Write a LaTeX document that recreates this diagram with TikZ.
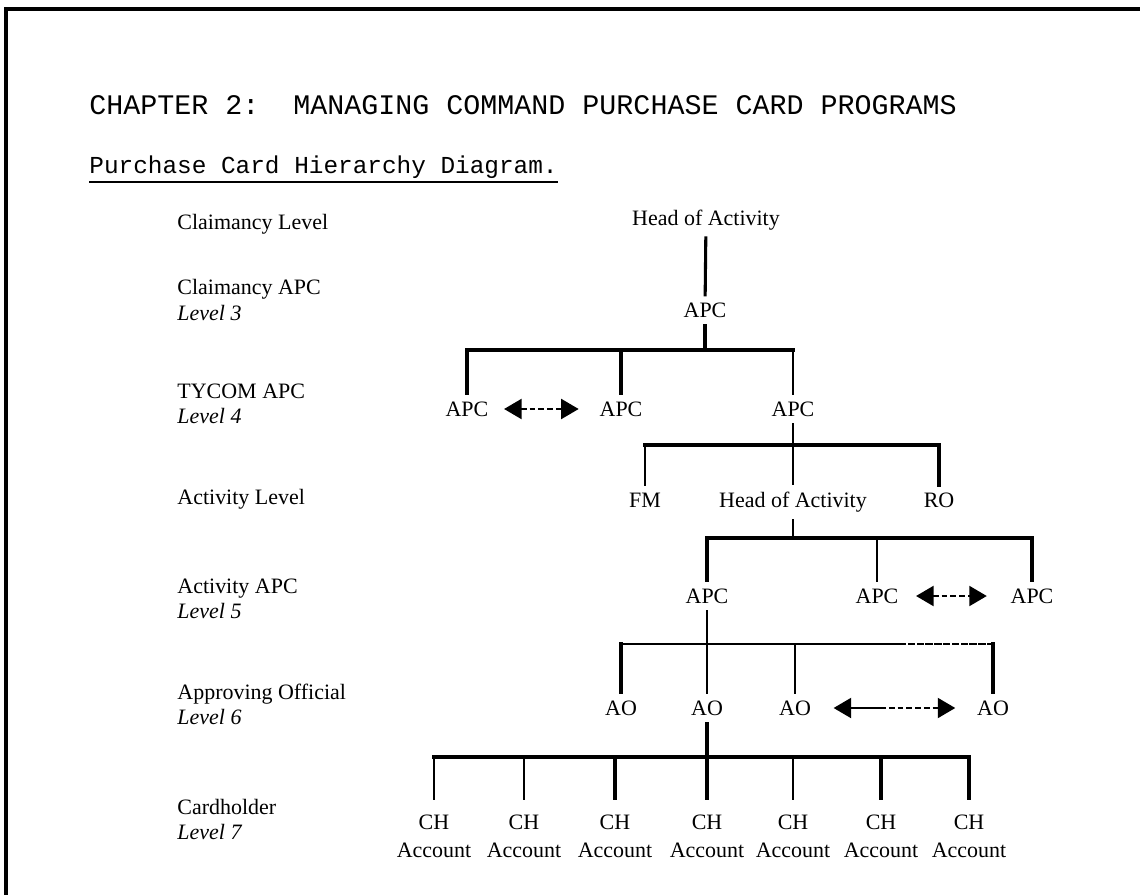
\documentclass[tikz,border=0pt]{standalone}
\usepackage{fontspec}
\setmainfont{Liberation Serif}
\setmonofont{Liberation Mono}
\usetikzlibrary{arrows.meta}

\begin{document}
\begin{tikzpicture}[
  heavy/.style={line width=1.4pt,line cap=rect},
  light/.style={line width=0.9pt,line cap=rect},
  heavier/.style={line width=1.8pt,line cap=rect},
  dots/.style={dash pattern=on 2pt off 1pt},
  lvl/.style={anchor=west,inner sep=0pt,align=left,font=\fontsize{10}{11.4}\selectfont},
  post/.style={font=\fontsize{10}{12}\selectfont},
  acct/.style={align=center,outer ysep=4pt,font=\fontsize{10}{12.7}\selectfont},
  twoway/.style={line width=1.3pt,dash pattern=on 2.6pt off 1.4pt},
  bigtri/.tip={Triangle[length=8pt,width=9pt]}
]
\useasboundingbox (0,0) rectangle (18.240,-14.320);
\draw[line width=1.4pt] (0.096,-14.320) -- (0.096,-0.144) -- (18.240,-0.144);

% heading
\node[anchor=base west,inner sep=0pt,font=\ttfamily\fontsize{12.9}{15}\selectfont] (chap) at (1.424,-1.840) {CHAPTER 2:\ \ MANAGING COMMAND PURCHASE CARD PROGRAMS};
\node[anchor=base west,inner sep=0pt,font=\ttfamily\fontsize{11.1}{13}\selectfont] (sub) at (1.424,-2.784) {Purchase Card Hierarchy Diagram.};
\draw[line width=0.9pt] ([yshift=-3.6pt]sub.base west) -- ([yshift=-3.6pt]sub.base east);

% level names
\node[lvl] (lclaim) at (2.832,-3.584) {Claimancy Level};
\node[lvl] (lthree) at (2.832,-4.800) {Claimancy APC\\\textit{Level 3}};
\node[lvl] (lfour) at (2.832,-6.464) {TYCOM APC\\\textit{Level 4}};
\node[lvl] (lact) at (2.832,-7.984) {Activity Level};
\node[lvl] (lfive) at (2.832,-9.584) {Activity APC\\\textit{Level 5}};
\node[lvl] (lsix) at (2.832,-11.264) {Approving Official\\\textit{Level 6}};
\node[lvl] (lseven) at (2.832,-13.104) {Cardholder\\\textit{Level 7}};

% posts
\node[post] (hoa1) at (11.296,-3.520) {Head of Activity};
\node[post] (apc3) at (11.280,-4.960) {APC};
\node[post] (apc4a) at (7.472,-6.544) {APC};
\node[post] (apc4b) at (9.936,-6.544) {APC};
\node[post] (apc4c) at (12.688,-6.544) {APC};
\node[post] (fm) at (10.320,-8.000) {FM};
\node[post] (hoa2) at (12.688,-8.032) {Head of Activity};
\node[post] (ro) at (15.024,-8.000) {RO};
\node[post] (apc5a) at (11.312,-9.536) {APC};
\node[post] (apc5b) at (14.032,-9.536) {APC};
\node[post] (apc5c) at (16.512,-9.536) {APC};
\node[post] (ao1) at (9.936,-11.328) {AO};
\node[post] (ao2) at (11.312,-11.328) {AO};
\node[post] (ao3) at (12.720,-11.328) {AO};
\node[post] (ao4) at (15.888,-11.328) {AO};
\node[acct] (ch1) at (6.944,-13.376) {CH\\Account};
\node[acct] (ch2) at (8.384,-13.376) {CH\\Account};
\node[acct] (ch3) at (9.840,-13.376) {CH\\Account};
\node[acct] (ch4) at (11.312,-13.376) {CH\\Account};
\node[acct] (ch5) at (12.688,-13.376) {CH\\Account};
\node[acct] (ch6) at (14.096,-13.376) {CH\\Account};
\node[acct] (ch7) at (15.504,-13.376) {CH\\Account};

% junctions
\coordinate (j3) at (11.280,-5.600);
\coordinate (d3a) at (7.712,-5.600);
\coordinate (d3b) at (8.432,-5.600);
\coordinate (j4) at (12.688,-7.120);
\coordinate (j5) at (12.688,-8.608);
\coordinate (d5a) at (15.632,-8.608);
\coordinate (d5b) at (16.432,-8.608);
\coordinate (j6) at (11.312,-10.304);
\coordinate (d6a) at (14.400,-10.304);
\coordinate (j7) at (11.312,-12.112);
\coordinate (split3) at (14.080,-11.328);

% claimancy
\draw[heavy] (hoa1) -- (apc3);
\draw[heavy] (apc3) -- (j3);
\draw[heavy] (apc4a) |- (d3a);
\draw[heavy,dots] (d3a) -- (d3b);
\draw[heavy] (d3b) -- (j3 -| apc4c);
\draw[heavy] (j3 -| apc4b) -- (apc4b);
\draw[light] (j3 -| apc4c) -- (apc4c);
\draw[twoway,bigtri-bigtri,shorten <=3.6pt,shorten >=6pt] (apc4a) -- (apc4b);

% activity
\draw[light] (apc4c) -- (hoa2);
\draw[heavy] (j4 -| fm) -- (j4 -| ro);
\draw[light] (j4 -| fm) -- (fm);
\draw[heavier] (j4 -| ro) -- (ro);
\draw[light] (hoa2) -- (j5);
\draw[heavy] (apc5a) |- (d5a);
\draw[heavy,dots] (d5a) -- (d5b);
\draw[heavy] (d5b) -| (apc5c);
\draw[light] (j5 -| apc5b) -- (apc5b);
\draw[twoway,bigtri-bigtri,shorten <=4.5pt,shorten >=7.3pt] (apc5b) -- (apc5c);

% approving officials
\draw[light] (apc5a) -- (ao2);
\draw[heavy] (ao1) -- (ao1 |- j6);
\draw[light] (ao1 |- j6) -- (d6a);
\draw[light,dash pattern=on 2.5pt off 1.5pt] (d6a) -- (ao4 |- j6);
\draw[heavy] (ao4 |- j6) -- (ao4);
\draw[light] (j6 -| ao3) -- (ao3);
\draw[line width=1.3pt,bigtri-,shorten <=6.8pt] (ao3) -- (split3);
\draw[twoway,-bigtri,shorten >=6.4pt] (split3) -- (ao4);

% cardholders
\draw[heavy] (ao2) -- (j7);
\draw[heavy] (j7 -| ch1) -- (j7 -| ch7);
\draw[light] (j7 -| ch1) -- (ch1);
\draw[light] (j7 -| ch2) -- (ch2);
\draw[heavy] (j7 -| ch3) -- (ch3);
\draw[heavy] (j7) -- (ch4);
\draw[light] (j7 -| ch5) -- (ch5);
\draw[heavy] (j7 -| ch6) -- (ch6);
\draw[heavy] (j7 -| ch7) -- (ch7);
\end{tikzpicture}
\end{document}
